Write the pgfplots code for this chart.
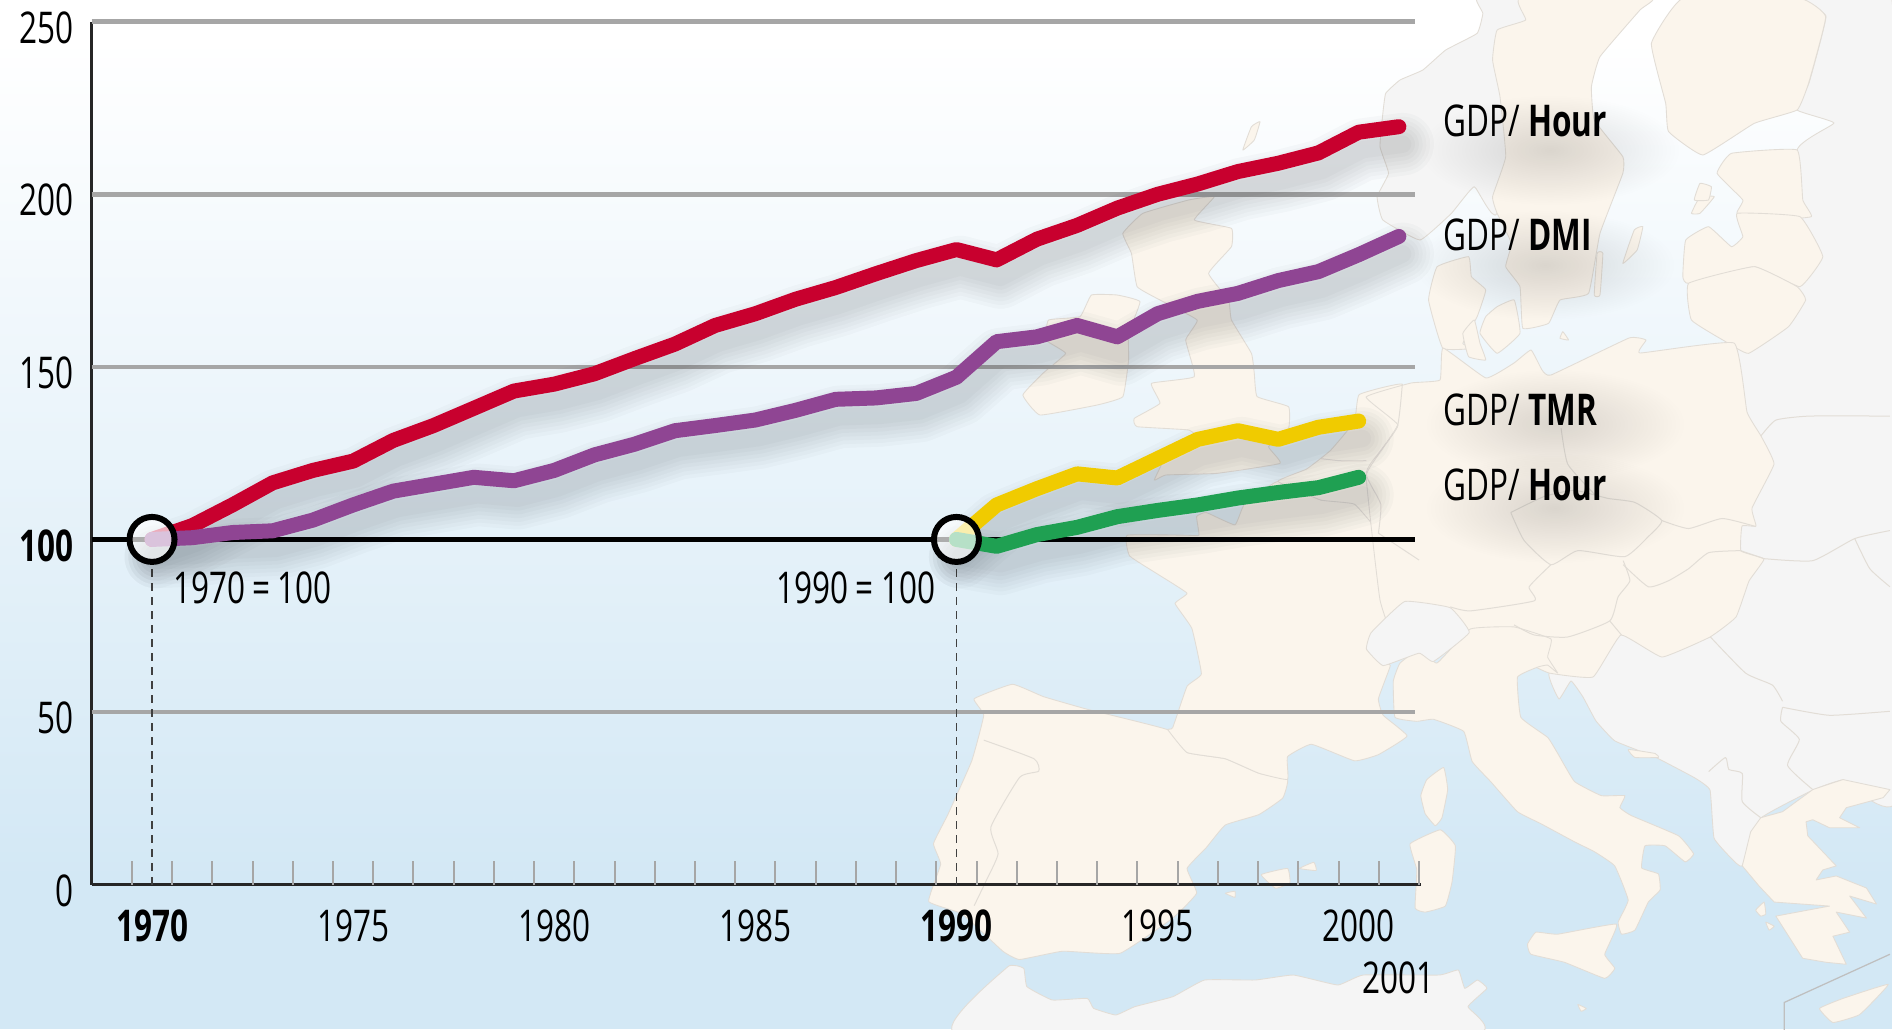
\documentclass[border=0pt]{standalone}
\usepackage{pgfplots}
\usepackage{pgfplotstable}
\usepackage{fontspec}
\usetikzlibrary{fadings}
\pgfplotsset{compat=1.18}
\setmainfont{Open Sans}[FakeStretch=0.72]
\definecolor{sea}{HTML}{D3E8F5}
\definecolor{cream}{HTML}{FBF5EC}
\definecolor{graya}{HTML}{F5F5F5}
\definecolor{mapline}{HTML}{E2DDD6}
\definecolor{gridg}{HTML}{A6A6A6}
\definecolor{cred}{HTML}{C8002E}
\definecolor{cpur}{HTML}{8F4593}
\definecolor{cyel}{HTML}{F0CB00}
\definecolor{cgrn}{HTML}{1FA052}
\definecolor{shadc}{HTML}{20262C}
\tikzfading[name=fuzz, inner color=transparent!0, outer color=transparent!100]
\tikzset{
 landc/.style={fill=cream,draw=mapline,line width=.35pt,line join=round},
 landg/.style={fill=graya,draw=mapline,line width=.35pt,line join=round},
 bord/.style={draw=mapline,line width=.4pt,line join=round},
}
\newcommand\lnd[1]{\path[landc] plot[smooth cycle,tension=.2] coordinates {#1};}
\newcommand\lng[1]{\path[landg] plot[smooth cycle,tension=.2] coordinates {#1};}
\newcommand\bline[1]{\path[bord] plot[smooth,tension=.3] coordinates {#1};}
\pgfplotstableread{
year gh gd
1970 100 100
1971 104 100.5
1972 110 102
1973 116.4 102.5
1974 120 105.6
1975 122.7 110
1976 128.7 114
1977 133 116
1978 138 118
1979 143 117
1980 145 120
1981 148 124.5
1982 152.4 127.6
1983 156.6 131.5
1984 162 133
1985 165.4 134.6
1986 169.6 137.4
1987 173 140.6
1988 177 141
1989 180.8 142.3
1990 184 147
1991 181 157.3
1992 187 158.7
1993 191 162
1994 196 158.7
1995 200 165.4
1996 203 169
1997 206.6 171.3
1998 209 175
1999 212 177.6
2000 218 182.5
2001 219.6 187.8
}\dataA
\pgfplotstableread{
year gt gh
1990 100 100
1991 110 98
1992 114.7 101.4
1993 119 103.5
1994 117.8 106.6
1995 123.4 108.4
1996 129 110
1997 131.5 112
1998 129 113.6
1999 132.5 115
2000 134.3 118
}\dataB
\pgfplotsset{
 shad/.style={forget plot,shadc,line join=round,line cap=round,opacity=.024,yshift=-7pt,xshift=1.5pt,no markers},
 ser/.style={forget plot,line width=6pt,line join=round,line cap=round,no markers},
}
\begin{document}
\begin{tikzpicture}[x=0.4pt,y=-0.4pt]
\path[use as bounding box,clip] (0,0) rectangle (1892,1029);
% sea
\fill[sea] (0,0) rectangle (1892,1029);
\fill[white] (0,0) rectangle (1892,40);
\shade[top color=white,bottom color=sea] (0,39) rectangle (1892,880);
% grey land (east)
\lng{(1800,0)(1892,0)(1900,790)(1843,780)(1813,790)(1761,818)(1742,866)(1731,858)(1714,838)(1710,790)(1695,778)(1655,757)(1615,741)(1596,721)(1583,697)(1571,681)(1559,699)(1549,673)(1593,640)(1700,500)(1734,343)(1780,300)(1797,150)(1834,123)(1797,110)(1809,83)(1826,16)}
\begin{scope}[shift={(1000,0)},xscale=1/1.75,yscale=1/3]
% Norway
\lng{(835,-5)(845,40)(835,100)(780,150)(740,210)(700,240)(675,280)(670,340)(665,440)(680,520)(660,590)(670,660)(735,720)(790,640)(830,560)(870,640)(950,-5)}
% Sweden
\lnd{(910,-5)(920,60)(870,90)(862,180)(875,290)(885,470)(862,590)(870,640)(895,730)(885,800)(910,860)(915,985)(960,970)(980,900)(1030,880)(1050,700)(1090,520)(1090,470)(1040,360)(1035,260)(1050,170)(1120,30)(1140,-5)}
% Finland
\lnd{(1195,-5)(1140,130)(1165,310)(1170,395)(1230,465)(1320,370)(1395,330)(1415,250)(1445,50)(1400,-5)}
% Baltics
\lnd{(1255,520)(1280,460)(1395,450)(1405,600)(1420,650)(1350,660)(1290,640)(1300,600)}
\lnd{(1195,830)(1200,720)(1240,680)(1280,740)(1300,710)(1290,640)(1400,650)(1440,770)(1400,860)(1320,800)(1205,850)}
\lnd{(1205,850)(1320,800)(1395,860)(1410,900)(1380,980)(1310,1060)(1270,1025)(1210,960)}
% islands
\lnd{(1090,790)(1110,690)(1125,680)(1115,750)}
\lnd{(1040,885)(1045,760)(1055,760)(1050,885)}
\lnd{(985,995)(995,1020)(980,1015)}
\lnd{(1210,640)(1225,590)(1250,590)(1225,640)}
\lnd{(1215,600)(1225,550)(1245,560)(1240,600)}
\lnd{(425,450)(440,380)(455,365)(445,420)}
% Denmark
\lnd{(775,1045)(750,900)(765,800)(820,770)(825,830)(850,870)(835,950)(810,1030)(830,1045)}
\lnd{(850,950)(870,920)(900,900)(910,1000)(870,1060)(840,1000)}
\lnd{(810,1000)(830,960)(840,1030)(850,1080)(820,1070)}
% Britain
\lnd{(330,600)(375,590)(340,660)(405,685)(405,740)(365,820)(400,900)(405,960)(440,1060)(445,1120)(450,1190)(505,1220)(505,1285)(470,1340)(490,1390)(380,1420)(290,1425)(270,1440)(300,1340)(350,1320)(330,1290)(240,1280)(235,1255)(280,1210)(265,1150)(340,1130)(325,1020)(345,960)(280,900)(240,860)(230,760)(215,700)(250,640)}
% Ireland
\lnd{(85,960)(140,950)(160,885)(205,885)(245,905)(225,1000)(225,1080)(215,1190)(170,1215)(70,1245)(40,1185)(75,1120)(115,1060)(80,1020)}
\end{scope}
\begin{scope}[shift={(900,380)},xscale=1/2.09,yscale=1/2.416]
% Iberia
\lnd{(155,770)(235,735)(300,765)(390,795)(560,845)(600,900)(680,915)(750,950)(810,965)(800,1010)(750,1050)(680,1075)(640,1130)(600,1180)(620,1240)(570,1300)(460,1385)(340,1380)(250,1400)(215,1380)(130,1290)(60,1260)(85,1170)(70,1120)(100,1050)(150,920)(175,810)}
\bline{(175,870)(280,915)(290,945)(250,960)(190,1080)(205,1145)(180,1210)(155,1270)}
\lnd{(755,1195)(810,1180)(815,1215)(785,1228)}
\lnd{(835,1180)(865,1165)(870,1185)}
\lnd{(680,1240)(700,1235)(700,1250)}
% France
\lnd{(475,375)(480,425)(540,470)(600,515)(575,540)(610,600)(630,710)(600,740)(570,840)(560,845)(600,900)(680,915)(750,950)(810,965)(810,910)(860,880)(950,920)(1000,905)(1060,860)(1010,810)(1000,770)(1025,690)(1010,685)(975,650)(1000,600)(1055,535)(1050,510)(1085,435)(1000,370)(980,330)(950,290)(880,290)(790,245)(720,300)(700,350)(640,320)(620,330)(625,375)(600,375)}
% Benelux
\lnd{(790,245)(850,215)(900,170)(950,100)(960,35)(1050,10)(1040,110)(1000,180)(975,230)(1000,300)(1005,370)(950,300)(880,290)}
\bline{(880,190)(920,195)(975,195)}
\end{scope}
% Central Europe
\lnd{(1366,397)(1411,383)(1440,380)(1443,348)(1486,378)(1514,363)(1531,350)(1542,370)(1551,375)(1629,338)(1646,340)(1640,353)(1734,343)(1747,412)(1761,436)(1774,464)(1752,508)(1756,526)(1742,526)(1741,551)(1764,559)(1749,581)(1736,617)(1710,637)(1662,657)(1621,635)(1593,677)(1549,673)(1520,660)(1470,650)(1400,650)(1380,600)(1366,475)(1378,454)(1398,425)}
\begin{scope}[shift={(900,380)},xscale=1/2.09,yscale=1/2.416]
\bline{(1000,370)(1005,300)(975,230)(1000,180)(1040,110)(1050,10)}
\bline{(1085,435)(1000,370)}
\end{scope}
\begin{scope}[shift={(1400,400)},xscale=1/2.98,yscale=1/2.49]
% Italy
\lnd{(0,655)(60,620)(110,655)(210,570)(340,565)(450,595)(440,640)(470,680)(440,660)(410,665)(350,690)(360,790)(440,840)(470,880)(520,950)(600,985)(670,985)(655,1015)(690,1035)(830,1085)(875,1130)(850,1150)(790,1110)(730,1110)(720,1165)(770,1180)(775,1220)(740,1250)(700,1320)(660,1330)(650,1300)(680,1245)(640,1160)(580,1125)(520,1100)(420,1055)(350,1025)(270,950)(215,900)(190,825)(100,795)(50,800)(-15,790)(-20,700)}
\lnd{(380,1355)(405,1325)(470,1330)(645,1305)(610,1380)(640,1415)(610,1440)(490,1400)(390,1380)}
\lnd{(30,1105)(120,1070)(165,1110)(155,1200)(135,1260)(75,1275)(45,1265)(50,1170)}
\lnd{(130,915)(142,970)(125,1040)(105,1060)(75,1030)(62,985)(80,945)}
% Greece
\path[landc] plot coordinates {(1075,1040)(1140,1025)(1230,970)(1320,945)(1460,970)(1440,990)(1330,1015)(1310,1040)(1370,1065)(1280,1065)(1230,1045)(1210,1050)(1215,1085)(1300,1160)(1260,1170)(1240,1195)(1300,1185)(1390,1215)(1420,1255)(1340,1235)(1390,1290)(1300,1275)(1340,1325)(1290,1335)(1330,1405)(1270,1400)(1200,1390)(1120,1285)(1280,1260)(1115,1250)(1070,1210)(1020,1160)(1045,1075)} -- cycle;
\lnd{(1060,1270)(1085,1250)(1090,1280)(1075,1285)}
\lnd{(1090,1300)(1115,1310)(1100,1320)}
\lnd{(1250,1515)(1320,1490)(1455,1455)(1370,1530)(1290,1550)}
\lnd{(530,1505)(555,1515)(540,1522)}
\lnd{(680,870)(760,880)(770,890)(700,890)}
% borders
\bline{(330,280)(430,240)(520,225)(620,245)(700,255)(780,300)(740,340)(670,390)(530,375)(450,410)(370,350)(330,280)}
\bline{(665,410)(740,465)(800,450)(860,420)(920,380)(1015,375)}
\bline{(780,300)(860,320)(960,295)(1060,315)}
\bline{(150,515)(210,525)(400,500)(385,465)(450,410)}
\bline{(340,560)(400,585)(500,590)(625,550)(650,490)(685,450)(665,400)}
\bline{(625,550)(660,585)}
\bline{(1085,395)(1230,400)(1355,345)(1460,325)}
\bline{(1355,345)(1400,420)(1460,465)}
\bline{(925,590)(1030,680)(1110,710)(1140,750)}
\bline{(1140,765)(1280,785)(1460,775)}
\bline{(1140,765)(1135,800)(1190,845)(1155,910)(1230,970)}
\bline{(920,925)(970,890)(980,920)(1020,930)(1020,1000)(1075,1040)}
\bline{(1075,90)(1120,50)(1220,40)(1460,40)}
\bline{(1015,375)(1085,395)}
\bline{(480,70)(500,160)(580,235)}
\draw[black!25,line width=.5pt] (1145,1568) -- (1145,1500) -- (1460,1380);
\end{scope}
\begin{scope}[shift={(900,380)},xscale=1/2.09,yscale=1/2.416]
\lng{(1055,535)(1150,550)(1190,610)(1115,680)(1085,660)(1010,690)(975,650)(985,610)}
\end{scope}
\begin{scope}[shift={(900,900)},xscale=1/1.576,yscale=1/3]
\lng{(90,400)(170,200)(195,205)(200,260)(240,300)(295,295)(305,325)(340,345)(370,320)(430,290)(480,240)(560,240)(620,225)(690,255)(730,225)(850,225)(880,210)(890,265)(910,240)(925,265)(895,320)(905,400)}
\end{scope}
% soft shadows behind the labels
\fill[black,opacity=.13,path fading=fuzz] (1550,150) ellipse (130 and 55);
\fill[black,opacity=.13,path fading=fuzz] (1545,265) ellipse (130 and 55);
\fill[black,opacity=.13,path fading=fuzz] (1555,424) ellipse (130 and 55);
\fill[black,opacity=.13,path fading=fuzz] (1555,508) ellipse (130 and 55);
\begin{axis}[
 at={(36.68pt,-353.8pt)},anchor=south west,
 scale only axis,width=531.7pt,height=345.1pt,
 xmin=1968.5,xmax=2001.55,ymin=0,ymax=250,
 axis lines=left,axis line style={-,line width=1.1pt,black!85},
 clip=false,
 major tick length=0pt,
 xtick={1970,1975,1980,1985,1990,1995,2000,2001},
 xticklabels={\textbf{1970},1975,1980,1985,\textbf{1990},1995,2000,\raisebox{-21pt}{2001}},
 ytick={0,50,100,150,200,250},
 yticklabels={0,50,\textbf{100},150,200,250},
 tick label style={font=\fontsize{17.5}{20}\selectfont},
 xticklabel style={anchor=north,text height=12.5pt,text depth=0pt,yshift=-6.6pt},
 yticklabel style={anchor=east,yshift=-2.4pt,xshift=-3.7pt},
 extra x ticks={1969.5,1970.5,...,2001.5},
 extra x tick labels={},
 extra x tick style={major tick length=9.6pt,tick align=inside,tick style={gridg,line width=.8pt},xticklabel style={opacity=0}},
]
% grid lines
\addplot[forget plot,gridg,line width=1.9pt] coordinates {(1968.5,50)(2001.4,50)};
\addplot[forget plot,gridg,line width=1.9pt] coordinates {(1968.5,150)(2001.4,150)};
\addplot[forget plot,gridg,line width=1.9pt] coordinates {(1968.5,200)(2001.4,200)};
\addplot[forget plot,gridg,line width=1.9pt] coordinates {(1968.5,250)(2001.4,250)};
\addplot[forget plot,black,line width=1.8pt] coordinates {(1968.5,100)(2001.4,100)};
% drop lines
\addplot[forget plot,black!75,line width=.45pt,dash pattern=on 3.2pt off 2.4pt] coordinates {(1970,0)(1970,92)};
\addplot[forget plot,black!75,line width=.45pt,dash pattern=on 3.2pt off 2.4pt] coordinates {(1990,0)(1990,92)};
% shadows
\pgfplotsinvokeforeach{25,22,19,16,13,10,7}{
 \addplot[shad,line width=#1pt] table[x=year,y=gh]{\dataA};
 \addplot[shad,line width=#1pt] table[x=year,y=gd]{\dataA};
 \addplot[shad,line width=#1pt] table[x=year,y=gt]{\dataB};
 \addplot[shad,line width=#1pt] table[x=year,y=gh]{\dataB};
}
% series
\addplot[ser,cred] table[x=year,y=gh]{\dataA};
\addplot[ser,cpur] table[x=year,y=gd]{\dataA};
\addplot[ser,cyel] table[x=year,y=gt]{\dataB};
\addplot[ser,cgrn] table[x=year,y=gh]{\dataB};
% base circles
\addplot[forget plot,only marks,mark=*,mark size=9pt,mark options={fill=white,fill opacity=.68,draw=black,draw opacity=1,line width=2.4pt}] coordinates {(1970,100)(1990,100)};
% labels
\node[font=\fontsize{17.5}{20}\selectfont] at (axis cs:1972.5,86) {1970\,=\,100};
\node[font=\fontsize{17.5}{20}\selectfont] at (axis cs:1987.5,86) {1990\,=\,100};
\node[anchor=west,inner sep=0pt,font=\fontsize{17.5}{20}\selectfont] at (axis cs:2002.1,221.3) {GDP/ \textbf{Hour}};
\node[anchor=west,inner sep=0pt,font=\fontsize{17.5}{20}\selectfont] at (axis cs:2002.1,188.2) {GDP/ \textbf{DMI}};
\node[anchor=west,inner sep=0pt,font=\fontsize{17.5}{20}\selectfont] at (axis cs:2002.1,137.5) {GDP/ \textbf{TMR}};
\node[anchor=west,inner sep=0pt,font=\fontsize{17.5}{20}\selectfont] at (axis cs:2002.1,115.8) {GDP/ \textbf{Hour}};
\end{axis}
\end{tikzpicture}
\end{document}
